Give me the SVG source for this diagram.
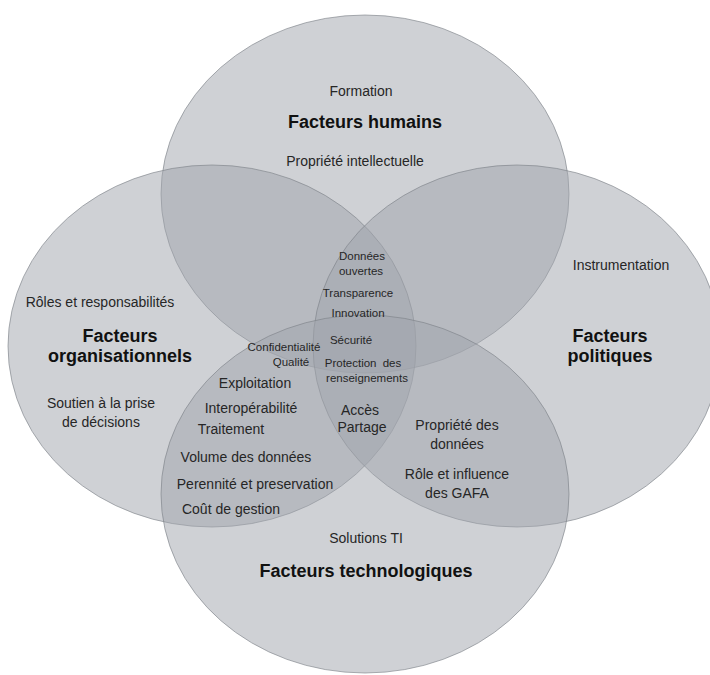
<svg xmlns="http://www.w3.org/2000/svg" width="710" height="675" viewBox="0 0 710 675">
<style>
.c{fill:#9fa3ab;fill-opacity:0.5;stroke:#7d8188;stroke-opacity:0.7;stroke-width:0.9}
text{font-family:"Liberation Sans",Arial,sans-serif;text-anchor:middle}
.t{font-size:18px;font-weight:bold;fill:#111}
.r{font-size:14px;fill:#262626}
.s{font-size:11.5px;fill:#262626}
</style>
<rect width="710" height="675" fill="#ffffff"/>
<g id="ellipses">
<g id="humains-shape"><ellipse class="c" cx="365" cy="194" rx="204" ry="179"/></g>
<g id="organisationnels-shape"><ellipse class="c" cx="212" cy="346" rx="204" ry="181"/></g>
<g id="politiques-shape"><ellipse class="c" cx="517" cy="346" rx="204" ry="181"/></g>
<g id="technologiques-shape"><ellipse class="c" cx="365" cy="494" rx="204" ry="179"/></g>
</g>
<g id="humains">
<text class="r" x="361" y="96">Formation</text>
<text class="t" x="365" y="128">Facteurs humains</text>
<text class="r" x="355" y="166">Propriété intellectuelle</text>
</g>
<g id="organisationnels">
<text class="r" x="100" y="307">Rôles et responsabilités</text>
<text class="t" x="120" y="342">Facteurs</text>
<text class="t" x="120" y="362">organisationnels</text>
<text class="r" x="101" y="408">Soutien à la prise</text>
<text class="r" x="101" y="427">de décisions</text>
</g>
<g id="politiques">
<text class="r" x="621" y="270">Instrumentation</text>
<text class="t" x="610" y="342">Facteurs</text>
<text class="t" x="610" y="362">politiques</text>
</g>
<g id="technologiques">
<text class="r" x="366" y="543">Solutions TI</text>
<text class="t" x="366" y="577">Facteurs technologiques</text>
</g>
<g id="centre">
<text class="s" x="362" y="260">Données</text>
<text class="s" x="361" y="275">ouvertes</text>
<text class="s" x="358" y="297">Transparence</text>
<text class="s" x="358" y="317">Innovation</text>
<text class="s" x="351" y="344">Sécurité</text>
<text class="s" x="284" y="351">Confidentialité</text>
<text class="s" x="291" y="366">Qualité</text>
<text class="s" x="363" y="367" word-spacing="3">Protection des</text>
<text class="s" x="367" y="382">renseignements</text>
<text class="r" x="360" y="415">Accès</text>
<text class="r" x="362" y="432">Partage</text>
</g>
<g id="organisationnels-technologiques">
<text class="r" x="255" y="388">Exploitation</text>
<text class="r" x="251" y="413">Interopérabilité</text>
<text class="r" x="231" y="434">Traitement</text>
<text class="r" x="246" y="462">Volume des données</text>
<text class="r" x="255" y="489">Perennité et preservation</text>
<text class="r" x="231" y="514">Coût de gestion</text>
</g>
<g id="politiques-technologiques">
<text class="r" x="457" y="430">Propriété des</text>
<text class="r" x="457" y="449">données</text>
<text class="r" x="457" y="479">Rôle et influence</text>
<text class="r" x="457" y="498">des GAFA</text>
</g>
</svg>
